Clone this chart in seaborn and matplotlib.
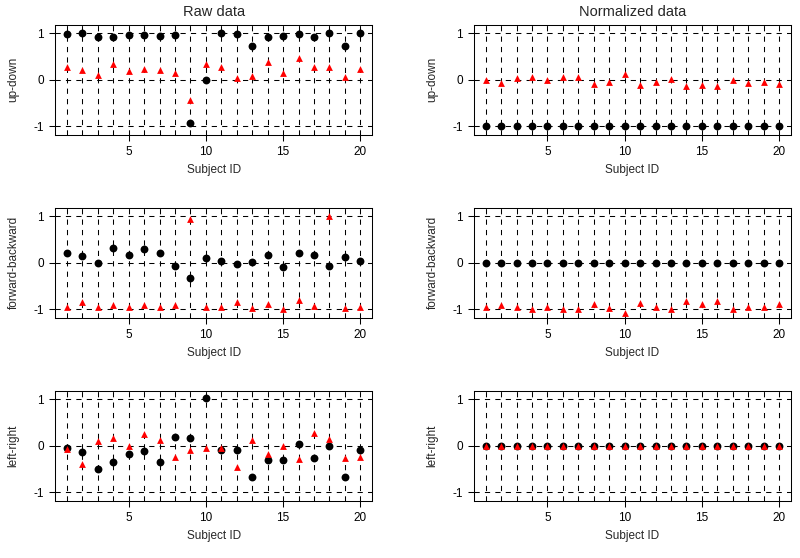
import matplotlib
matplotlib.use("Agg")
import matplotlib.pyplot as plt
import pandas as pd
import seaborn as sns

subjects = list(range(1, 21))

# raw data: circles (black) and triangles (red)
raw_updown_circle = [0.99, 1.00, 0.93, 0.93, 0.97, 0.97, 0.95, 0.97, -0.92, 0.00,
                     1.00, 0.99, 0.72, 0.93, 0.95, 0.99, 0.93, 1.00, 0.72, 1.00]
raw_updown_triangle = [0.27, 0.22, 0.11, 0.34, 0.18, 0.23, 0.22, 0.14, -0.43, 0.34,
                       0.27, 0.04, 0.09, 0.39, 0.14, 0.47, 0.27, 0.27, 0.06, 0.23]
raw_fwdback_circle = [0.22, 0.14, 0.00, 0.32, 0.16, 0.29, 0.22, -0.06, -0.32, 0.10,
                      0.03, -0.02, 0.01, 0.17, -0.09, 0.22, 0.16, -0.07, 0.13, 0.03]
raw_fwdback_triangle = [-0.94, -0.85, -0.95, -0.91, -0.95, -0.91, -0.94, -0.91, 0.94, -0.94,
                        -0.94, -0.84, -0.97, -0.88, -0.99, -0.81, -0.92, 1.00, -0.97, -0.94]
raw_leftright_circle = [-0.05, -0.13, -0.49, -0.35, -0.18, -0.12, -0.34, 0.18, 0.16, 1.02,
                        -0.09, -0.10, -0.66, -0.31, -0.31, 0.04, -0.26, 0.00, -0.66, -0.10]
raw_leftright_triangle = [-0.07, -0.39, 0.11, 0.16, -0.01, 0.26, 0.13, -0.23, -0.10, -0.05,
                          -0.05, -0.46, 0.13, -0.18, 0.00, -0.29, 0.27, 0.15, -0.26, -0.25]

# normalized data
norm_updown_circle = [-1.0] * 20
norm_updown_triangle = [-0.01, -0.06, 0.04, 0.07, 0.00, 0.06, 0.07, -0.08, -0.05, 0.12,
                        -0.12, -0.05, 0.01, -0.14, -0.12, -0.13, -0.01, -0.07, -0.04, -0.08]
norm_fwdback_circle = [0.0] * 20
norm_fwdback_triangle = [-0.95, -0.91, -0.95, -1.00, -0.95, -1.00, -1.00, -0.88, -0.98, -1.07,
                         -0.86, -0.94, -0.99, -0.83, -0.89, -0.83, -0.99, -0.94, -0.95, -0.88]
norm_leftright_circle = [0.0] * 20
norm_leftright_triangle = [0.0] * 20

col_titles = ["Raw data", "Normalized data"]
row_labels = ["up-down", "forward-backward", "left-right"]

panels = [
    [(raw_updown_circle, raw_updown_triangle), (norm_updown_circle, norm_updown_triangle)],
    [(raw_fwdback_circle, raw_fwdback_triangle), (norm_fwdback_circle, norm_fwdback_triangle)],
    [(raw_leftright_circle, raw_leftright_triangle), (norm_leftright_circle, norm_leftright_triangle)],
]

sns.set_style("white")
plt.rcParams["font.family"] = ["Liberation Sans", "DejaVu Sans"]
plt.rcParams["axes.unicode_minus"] = False

fig = plt.figure(figsize=(8, 5.58), dpi=100)

col_x = [0.069, 0.5925]
row_y = [0.758, 0.43, 0.102]
w, h = 0.396, 0.198

for r, row in enumerate(panels):
    for c, (circ, tri) in enumerate(row):
        ax = fig.add_axes([col_x[c], row_y[r], w, h])
        for x in subjects:
            ax.axvline(x, color="black", lw=0.75, ls=(0, (5, 5)), zorder=1)
        for y in [-1, 0, 1]:
            ax.axhline(y, color="black", lw=0.75, ls=(0, (5, 5)), zorder=1)

        df = pd.DataFrame({"subject": subjects, "circle": circ, "triangle": tri})
        sns.scatterplot(data=df, x="subject", y="circle", ax=ax, color="black",
                        marker="o", s=32, linewidth=0, zorder=3)
        sns.scatterplot(data=df, x="subject", y="triangle", ax=ax, color="#ff0000",
                        marker="^", s=24, linewidth=0, zorder=4)

        ax.set_xlim(0.24, 20.76)
        ax.set_ylim(-1.188, 1.188)
        ax.set_xticks([5, 10, 15, 20])
        ax.set_yticks([-1, 0, 1])
        ax.tick_params(direction="out", length=4, width=0.75, labelsize=8.5,
                       pad=4, colors="black", left=True, bottom=True)
        for s in ax.spines.values():
            s.set_color("black")
            s.set_linewidth(0.75)
        ax.set_xlabel("Subject ID", fontsize=8.5, labelpad=4)
        ax.set_ylabel(row_labels[r], fontsize=8.5, labelpad=10)
        if r == 0:
            ax.set_title(col_titles[c], fontsize=10.5, pad=6)

fig.savefig("out.png", dpi=100)
